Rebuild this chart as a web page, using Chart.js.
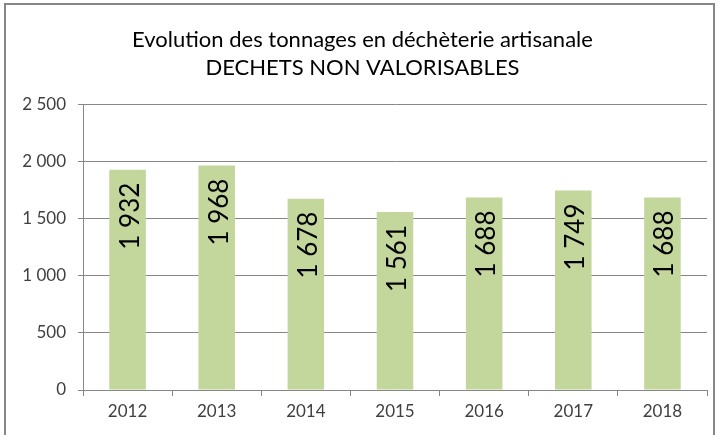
<!DOCTYPE html>
<html>
<head>
<meta charset="utf-8">
<script src="https://cdn.jsdelivr.net/npm/chart.js@4"></script>
<style>
html,body{margin:0;padding:0;background:#fff;}
#wrap{width:719px;height:435px;position:relative;}
</style>
</head>
<body>
<div id="wrap"><canvas id="c" width="719" height="435"></canvas></div>
<script>
const categories = ["2012","2013","2014","2015","2016","2017","2018"];
const tonnages = [1932, 1968, 1678, 1561, 1688, 1749, 1688];
const titleLines = ["Evolution des tonnages en déchèterie artisanale", "DECHETS NON VALORISABLES"];
const yTicks = [0, 500, 1000, 1500, 2000, 2500];

const FONT = "Lato, 'Open Sans', sans-serif";
function fmt(v){
  const s = String(Math.round(v));
  return s.replace(/\B(?=(\d{3})+(?!\d))/g, " ");
}

const borderPlugin = {
  id: 'outerBorder',
  beforeDraw(chart){
    const ctx = chart.ctx;
    ctx.save();
    ctx.fillStyle = '#fff';
    ctx.fillRect(0,0,chart.width,chart.height);
    ctx.strokeStyle = '#868686';
    ctx.lineWidth = 2;
    ctx.strokeRect(5, 4, 709, 440);
    ctx.restore();
  }
};

const labelPlugin = {
  id: 'barLabels',
  afterDatasetsDraw(chart){
    const ctx = chart.ctx;
    const meta = chart.getDatasetMeta(0);
    ctx.save();
    ctx.font = "26px " + FONT;
    ctx.fillStyle = '#000';
    ctx.textAlign = 'right';
    ctx.textBaseline = 'alphabetic';
    meta.data.forEach((bar, i) => {
      ctx.save();
      ctx.translate(bar.x + 11, bar.y + 13);
      ctx.rotate(-Math.PI/2);
      ctx.fillText(fmt(chart.data.datasets[0].data[i]), 0, 0);
      ctx.restore();
    });
    ctx.restore();
  }
};

new Chart(document.getElementById('c'), {
  type: 'bar',
  data: {
    labels: categories,
    datasets: [{
      data: tonnages,
      backgroundColor: '#c3d69b',
      borderWidth: 0,
      categoryPercentage: 1.0,
      barPercentage: 0.41
    }]
  },
  options: {
    responsive: false,
    animation: false,
    devicePixelRatio: 1,
    layout: { padding: { left: 18, right: 12, top: 0, bottom: 0 } },
    plugins: {
      legend: { display: false },
      tooltip: { enabled: false },
      title: {
        display: true,
        text: titleLines,
        color: '#000',
        font: { family: FONT, size: 22, weight: 'normal', lineHeight: 1.27 },
        padding: { top: 26, bottom: 23 }
      }
    },
    scales: {
      x: {
        offset: true,
        grid: {
          offset: true,
          drawOnChartArea: false,
          drawTicks: true,
          tickLength: 6,
          color: '#868686'
        },
        border: { color: '#868686', width: 1 },
        ticks: {
          color: '#404040',
          font: { family: FONT, size: 17 },
          padding: 5
        },
        afterFit(scale){ scale.height = 45; }
      },
      y: {
        min: 0,
        max: 2500,
        afterBuildTicks(scale){ scale.ticks = yTicks.map(v => ({value: v})); },
        grid: {
          color: '#868686',
          tickLength: 5,
          drawTicks: true
        },
        border: { color: '#868686', width: 1 },
        ticks: {
          color: '#404040',
          font: { family: FONT, size: 17 },
          padding: 12,
          callback: (v) => fmt(v)
        },
        afterFit(scale){ scale.width = 65; }
      }
    }
  },
  plugins: [borderPlugin, labelPlugin]
});
</script>
</body>
</html>
